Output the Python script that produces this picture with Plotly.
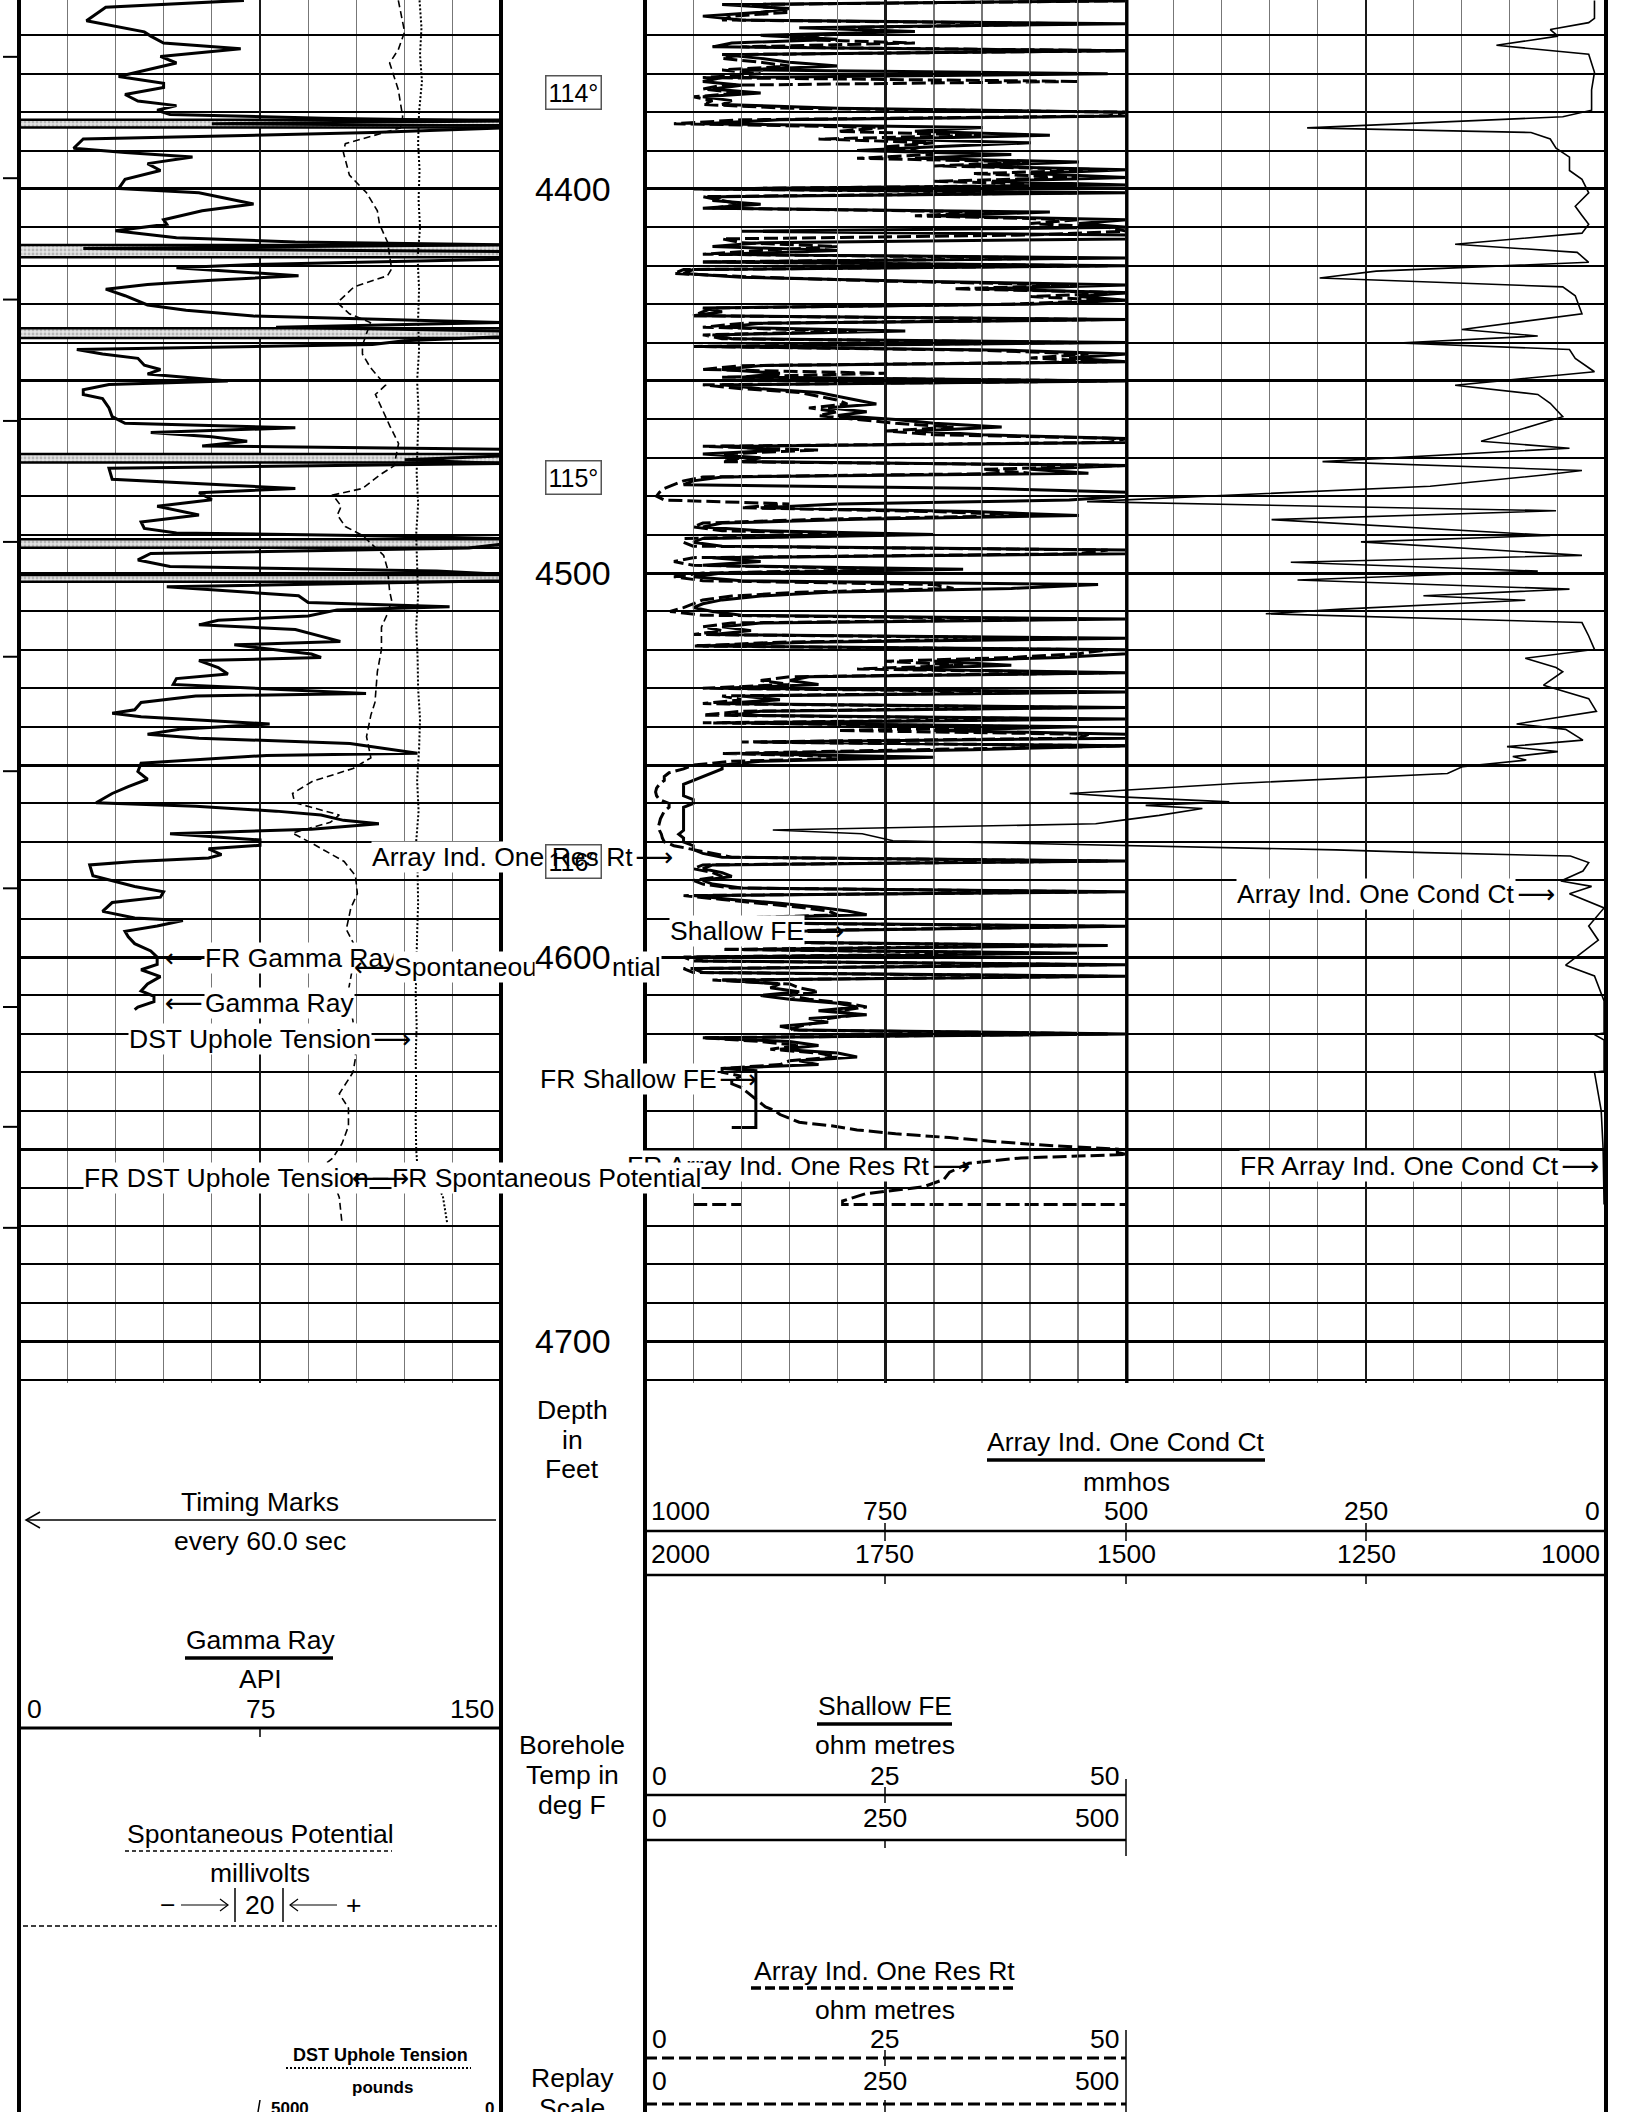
import plotly.graph_objects as go

GR_DEPTH = [4350.9, 4352.7, 4356.2, 4356.7, 4359.1, 4360.2, 4362.0, 4363.5, 4365.5, 4367.2,
            4370.7, 4372.5, 4373.6, 4375.4, 4377.1, 4378.3, 4379.5, 4380.6, 4381.6, 4382.3,
            4383.0, 4383.5, 4384.1, 4385.3, 4387.0, 4389.4, 4390.5, 4391.7, 4393.4, 4395.2,
            4397.5, 4399.9, 4401.0, 4403.9, 4405.7, 4408.0, 4409.2, 4410.9, 4412.7, 4413.8,
            4414.5, 4415.5, 4416.3, 4417.5, 4418.3, 4419.7, 4420.5, 4422.6, 4423.8, 4424.9,
            4426.1, 4427.8, 4430.2, 4431.6, 4433.1, 4434.8, 4436.0, 4437.0, 4438.5, 4439.5,
            4440.5, 4441.8, 4443.0, 4444.1, 4445.9, 4447.0, 4448.2, 4450.0, 4450.9, 4452.3,
            4453.5, 4454.6, 4457.0, 4459.3, 4461.0, 4462.2, 4463.4, 4464.5, 4465.7, 4466.9,
            4467.8, 4469.5, 4470.5, 4471.5, 4472.7, 4475.6, 4476.8, 4478.0, 4479.1, 4480.9,
            4482.6, 4484.9, 4486.7, 4488.4, 4489.6, 4490.2, 4491.0, 4492.5, 4493.5, 4494.9,
            4496.6, 4498.3, 4499.5, 4500.3, 4502.0, 4503.6, 4505.9, 4507.7, 4508.8, 4509.6,
            4511.2, 4512.3, 4513.5, 4514.7, 4517.8, 4518.7, 4521.1, 4522.0, 4522.8, 4524.6,
            4526.3, 4527.5, 4529.0, 4531.4, 4532.0, 4533.7, 4535.6, 4536.5, 4537.4, 4539.3,
            4540.7, 4542.0, 4543.0, 4544.4, 4546.9, 4547.5, 4549.5, 4551.7, 4553.7, 4555.6,
            4557.4, 4559.8, 4560.7, 4562.0, 4563.0, 4564.4, 4565.3, 4566.7, 4567.9, 4568.6,
            4569.5, 4570.9, 4571.8, 4573.3, 4574.2, 4575.1, 4576.0, 4578.8, 4581.6, 4583.0,
            4584.4, 4585.8, 4588.1, 4589.8, 4590.5, 4591.9, 4593.3, 4594.7, 4596.5, 4598.4,
            4600.0, 4601.9, 4603.3, 4605.1, 4607.0, 4608.8, 4610.2, 4611.6, 4613.0, 4613.7]
GR_API = [70, 27, 21, 24, 39, 41, 45, 69, 44, 49,
          31, 45, 45, 33, 37, 49, 43, 47, 95, 150,
          60, 150, 150, 110, 20, 17, 33, 54, 40, 44,
          33, 31, 56, 73, 57, 45, 46, 30, 49, 86,
          150, 20, 150, 150, 150, 73, 49, 87, 60, 40,
          27, 33, 40, 52, 73, 150, 80, 150, 150, 120,
          110, 18, 26, 37, 39, 44, 40, 65, 28, 20,
          20, 26, 28, 29, 33, 86, 41, 60, 71, 57,
          150, 150, 120, 150, 28, 29, 60, 86, 56, 60,
          43, 56, 38, 39, 49, 105, 150, 150, 140, 41,
          37, 47, 130, 150, 150, 46, 87, 90, 134, 99,
          90, 62, 56, 86, 100, 67, 91, 94, 56, 62,
          65, 49, 48, 108, 55, 38, 36, 29, 38, 78,
          50, 40, 56, 103, 124, 77, 38, 37, 40, 34,
          29, 24, 55, 80, 94, 101, 112, 91, 47, 58,
          75, 75, 59, 63, 59, 36, 22, 23, 36, 45,
          44, 29, 26, 36, 51, 43, 33, 34, 36, 41,
          43, 43, 38, 44, 40, 38, 42, 42, 37, 36]
GR_SCALE = [0, 150]

SP_DEPTH = [4350.9, 4359.1, 4363.7, 4367.2, 4374.2, 4381.2, 4384.1, 4388.2, 4390.5, 4396.4,
            4401.0, 4405.7, 4409.2, 4413.8, 4420.8, 4422.6, 4425.5, 4429.6, 4432.5, 4434.8,
            4440.7, 4443.0, 4446.5, 4451.1, 4453.5, 4457.0, 4461.6, 4466.3, 4472.1, 4474.5,
            4478.0, 4479.7, 4482.6, 4484.9, 4487.9, 4490.2, 4495.4, 4498.9, 4504.8, 4507.1,
            4510.6, 4514.1, 4519.9, 4525.7, 4533.7, 4537.0, 4542.6, 4548.1, 4550.9, 4554.2,
            4557.4, 4559.8, 4563.0, 4564.9, 4567.7, 4570.5, 4575.1, 4578.8, 4583.5, 4587.2,
            4592.8, 4597.4, 4602.1, 4608.6, 4613.3, 4620.7, 4626.3, 4630.0, 4635.6, 4639.3,
            4644.0, 4648.6, 4652.3, 4654.7, 4657.9, 4662.6, 4669.1]
SP_MV = [7.4, 10, 7.4, 3.8, 7.4, 9.2, 8.3, -14.6, -15.4, -12.9,
         -5.8, -1.3, -0.4, 2.9, 4.6, 2.9, -11, -17.9, -12.9, -4.2,
         -7.5, -7.5, -4.2, 2.1, -2.1, 0.4, 3.8, 7.5, 5.6, -0.4,
         -7.5, -19.8, -16.3, -17.9, -14.6, -7.5, 1.3, 2.9, 3.8, 4.6,
         2.9, 0.4, 0.4, -1.3, -2.3, -4, -5.8, -4, -11.4, -28.1,
         -36.5, -35.6, -17.1, -20.8, -36.5, -28.1, -15.1, -10.4, -9.6, -12.3,
         -14.2, -10.4, -11.4, -13.3, -12.3, -10.4, -10.4, -11.4, -17.1, -13.3,
         -13.3, -16, -19.8, -24.4, -19.8, -17.1, -16]
SP_SCALE = [-150, 50]

DST_DEPTH = [4350.9, 4358, 4365, 4372, 4380, 4388, 4395, 4403, 4410, 4418,
             4426, 4434, 4442, 4450, 4458, 4466, 4474, 4482, 4490, 4498,
             4506, 4514, 4522, 4530, 4538, 4546, 4554, 4562, 4570, 4578,
             4586, 4594, 4602, 4610, 4618, 4626, 4634, 4642, 4650, 4655.5,
             4659, 4662, 4669]
DST_LB = [-1690, -1650, -1680, -1640, -1700, -1720, -1690, -1710, -1680, -1730,
          -1700, -1720, -1700, -1740, -1710, -1730, -1750, -1720, -1760, -1740,
          -1720, -1760, -1730, -1720, -1680, -1700, -1740, -1710, -1760, -1730,
          -1720, -1740, -1760, -1770, -1750, -1770, -1760, -1770, -1760, -1730,
          -1400, -1210, -1120]
DST_SCALE = [-10000, 0]

SFE_START = 4351
SFE_OHMM = [50, 8, 15, 12, 6, 10, 50, 16, 28, 12,
            20, 9, 7, 50, 8, 12, 15, 20, 10, 48,
            8, 6, 10, 7, 12, 6, 9, 8, 20, 50,
            50, 14, 6, 35, 28, 42, 25, 40, 30, 22,
            38, 28, 45, 33, 50, 40, 50, 36, 50, 5,
            50, 8, 7, 12, 6, 42, 30, 50, 45, 50,
            10, 50, 50, 12, 7, 20, 8, 50, 6, 50,
            5, 4, 10, 28, 50, 35, 50, 45, 50, 40,
            6, 8, 5, 50, 12, 8, 27, 7, 9, 50,
            6, 38, 50, 44, 50, 12, 8, 14, 10, 50,
            8, 12, 18, 20, 22, 24, 19, 23, 20, 26,
            30, 37, 28, 35, 50, 50, 8, 14, 6, 12,
            10, 50, 40, 46, 8, 5, 4, 36, 50, 50,
            44, 20, 12, 34, 45, 22, 8, 6, 12, 30,
            6, 5, 8, 50, 50, 7, 12, 6, 33, 8,
            5, 10, 47, 38, 19, 12, 8, 6, 5, 7,
            10, 50, 12, 8, 11, 7, 50, 17, 6, 50,
            50, 43, 30, 38, 26, 50, 17, 15, 18, 8,
            50, 10, 14, 8, 50, 12, 9, 50, 8, 45,
            30, 50, 50, 12, 50, 34, 10, 30, 12, 8,
            8, 7, 6, 5, 4, 4, 4, 4, 5, 5,
            4, 4, 4, 4, 4, 4, 4, 3.5, 4, 4,
            5, 5, 6, 8, 50, 7, 6, 8, 9, 6,
            7, 10, 50, 5, 9, 14, 18, 21, 23, 8,
            6, 50, 20, 6, 12, 8, 48, 10, 45, 5,
            6, 50, 5, 6, 50, 8, 14, 13, 16, 12,
            15, 20, 22, 18, 23, 17, 19, 14, 16, 50,
            6, 15, 18, 14, 20, 22, 16, 18, 8]
SFE_TAIL_DEPTH = [4629.6, 4644.4, 4644.4]
SFE_TAIL_OHMM = [11.5, 11.5, 9]

RT_START = 4351
RT_OHMM = [50, 10, 14, 15, 9, 8, 45, 20, 25, 18,
           15, 28, 10, 50, 10, 8, 12, 15, 8, 12,
           6, 45, 8, 6, 10, 5, 7, 6, 15, 50,
           48, 10, 3, 25, 20, 35, 18, 30, 25, 28,
           30, 22, 40, 30, 48, 34, 45, 30, 45, 6,
           45, 6, 8, 10, 7, 36, 28, 45, 40, 48,
           50, 40, 8, 10, 20, 12, 6, 45, 6, 48,
           4, 3, 12, 25, 45, 32, 50, 40, 48, 38,
           7, 6, 5, 48, 10, 6, 22, 6, 8, 45,
           5, 35, 46, 40, 48, 10, 6, 25, 8, 48,
           6, 10, 16, 18, 20, 21, 17, 20, 18, 22,
           26, 32, 25, 30, 50, 48, 6, 18, 8, 10,
           8, 50, 35, 40, 6, 4, 3, 2, 1.5, 1.2,
           2, 15, 10, 30, 40, 18, 6, 5, 8, 26,
           4, 4, 5, 48, 45, 5, 3, 5, 28, 6,
           3, 6, 30, 32, 16, 9, 6, 5, 4, 2.6,
           6, 45, 9, 6, 8, 5, 45, 14, 5, 48,
           45, 38, 25, 33, 22, 48, 15, 12, 15, 6,
           45, 8, 10, 6, 45, 10, 6, 45, 6, 40,
           20, 46, 45, 10, 50, 28, 8, 25, 9, 5,
           4, 2.5, 2, 2, 1.5, 1.2, 1.1, 1.2, 1.5, 2.5,
           2.5, 2, 1.8, 1.6, 1.5, 1.4, 1.5, 1.7, 1.8, 2,
           3, 5, 7, 9, 48, 6, 5, 7, 8, 5,
           6, 9, 48, 4, 8, 12, 16, 19, 20, 7,
           5, 48, 18, 5, 10, 7, 45, 8, 42, 4,
           5, 48, 4, 5, 48, 7, 15, 16, 18, 15,
           17, 21, 23, 20, 22, 19, 18, 16, 15, 48,
           6, 12, 16, 13, 18, 20, 15, 14, 8, 8,
           10, 9, 9, 10, 10.5, 11, 11.5, 12, 12.5, 13.5,
           14, 15, 16, 19.5, 22, 26, 31.6, 36, 41.6, 49]
RT_TAIL_DEPTH = [4650.9, 4651.4, 4652.3, 4653.7, 4656.0, 4657.9, 4659.8, 4661.6, 4663.5, 4664.4, 4664.4]
RT_TAIL_OHMM = [49, 50, 39, 33.6, 31.6, 31, 28.9, 22.9, 20.5, 20.5, 50]
RT_STUB_DEPTH = [4664.4, 4664.4]
RT_STUB_OHMM = [5, 10]
RES_SCALE = [0, 50]

# conductivity: 1000 -> 0 mmhos across tracks 2 and 3
COND_DEPTH = [4350.9, 4352.1, 4355.6, 4356.7, 4358.5, 4360.2, 4362.6, 4364.9, 4367.2, 4369.6,
              4374.2, 4379.5, 4381.2, 4384.1, 4385.3, 4387.0, 4389.4, 4391.7, 4395.2, 4397.5,
              4401.0, 4404.5, 4406.9, 4409.2, 4411.5, 4414.4, 4416.5, 4419.1, 4421.4, 4423.2,
              4425.5, 4427.8, 4432.5, 4436.6, 4438.3, 4440.1, 4441.8, 4444.1, 4447.6, 4451.1,
              4453.5, 4455.8, 4459.3, 4465.7, 4467.5, 4469.2, 4471.0, 4473.3, 4474.5, 4477.4,
              4481.4, 4483.8, 4486.1, 4490.2, 4491.9, 4495.4, 4497.2, 4499.5, 4501.8, 4504.2,
              4505.9, 4507.1, 4509.4, 4510.6, 4512.9, 4516.4, 4519.9, 4522.2, 4524.6, 4525.7,
              4529.2, 4532.7, 4536.0, 4539.3, 4540.7, 4543.5, 4545.2, 4546.5, 4547.8, 4548.7,
              4550.4, 4552.2, 4554.8, 4557.4, 4558.3, 4559.6, 4560.5, 4561.3, 4563.1, 4564.4,
              4565.3, 4566.9, 4567.9, 4569.7, 4572.1, 4572.8, 4573.7, 4575.4, 4577.6, 4580.2,
              4581.6, 4583.5, 4587.2, 4591.9, 4595.6, 4602.1, 4604.9, 4611.4, 4619.8, 4620.2,
              4621.6, 4629.7, 4630.0, 4640.0, 4650.0, 4664.4]
COND_MMHO = [12, 12, 12, 18, 58, 50, 114, 18, 15, 12,
             15, 15, 45, 311, 78, 58, 52, 38, 38, 25,
             18, 32, 25, 18, 25, 157, 30, 18, 239, 298,
             45, 32, 25, 150, 71, 216, 38, 32, 12, 157,
             71, 58, 45, 130, 38, 163, 295, 25, 65, 183,
             540, 52, 348, 58, 255, 25, 328, 71, 321, 38,
             190, 84, 275, 354, 25, 18, 12, 84, 52, 45,
             65, 18, 10, 93, 42, 24, 103, 50, 97, 83,
             149, 165, 386, 558, 505, 392, 479, 420, 465, 505,
             531, 867, 774, 742, 281, 188, 37, 18, 24, 47,
             15, 38, 2, 18, 8, 42, 12, 2, 2, 12,
             2, 2, 12, 5, 3, 2]
COND_SCALE = [1000, 0]

BAND_TOP = [4382.0, 4414.6, 4436.3, 4469.0, 4491.2, 4500.5]
BAND_BOT = [4384.0, 4417.8, 4438.8, 4471.2, 4493.4, 4502.3]

TIMING_DEPTHS = [4365.6, 4397.2, 4428.8, 4460.4, 4491.9, 4521.8, 4551.6, 4582.1, 4613.0, 4644.2, 4670.5]
DEPTH_LABELS = [4400, 4500, 4600, 4700]
TEMP_DEPTHS = [4375, 4475, 4575]
TEMP_DEGF = [114, 115, 116]

DEPTH_RANGE = [4710.9, 4350.8]

# ---------------- layout helpers ----------------
W, H = 1632, 2112
LOG_BOTTOM = 1383
FONT = "Liberation Sans, Arial, DejaVu Sans, sans-serif"
HFS = 26.5   # header / label font size


def X(px):
    return px / W


def Y(py):
    return 1 - py / H


shapes = []
annotations = []


def line(x0, y0, x1, y1, width=2, dash="solid", color="black"):
    shapes.append(dict(type="line", xref="paper", yref="paper", x0=X(x0), y0=Y(y0), x1=X(x1), y1=Y(y1),
                       line=dict(color=color, width=width, dash=dash), layer="above"))


def path(pts, width=1.5):
    d = "M " + " L ".join(f"{X(a):.5f},{Y(b):.5f}" for a, b in pts)
    shapes.append(dict(type="path", xref="paper", yref="paper", path=d,
                       line=dict(color="black", width=width), layer="above"))


def txt(s, x, y, size=HFS, anchor="center", bold=False, bg=None):
    annotations.append(dict(text=f"<b>{s}</b>" if bold else s, x=X(x), y=Y(y), xref="paper", yref="paper",
                            showarrow=False, xanchor=anchor, yanchor="middle",
                            font=dict(family=FONT, size=size, color="black"),
                            bgcolor=bg, borderpad=0))


# ---------------- traces ----------------
fig = go.Figure()

bx, by = [], []
for t, b in zip(BAND_TOP, BAND_BOT):
    bx += [GR_SCALE[0], GR_SCALE[1], GR_SCALE[1], GR_SCALE[0], GR_SCALE[0], None]
    by += [t, t, b, b, t, None]
fig.add_trace(go.Scatter(x=bx, y=by, xaxis="x", yaxis="y", mode="lines", fill="toself",
                         fillcolor="#d0d0d0",
                         fillpattern=dict(shape=".", fgcolor="#8a8a8a", bgcolor="#e4e4e4", size=4, solidity=0.4),
                         line=dict(color="black", width=2.5), hoverinfo="skip", showlegend=False))

fig.add_trace(go.Scatter(x=GR_API, y=GR_DEPTH, xaxis="x", yaxis="y", mode="lines",
                         line=dict(color="black", width=3), name="Gamma Ray", showlegend=False))
fig.add_trace(go.Scatter(x=SP_MV, y=SP_DEPTH, xaxis="x2", yaxis="y", mode="lines",
                         line=dict(color="black", width=1.6, dash="7px,4px"), name="Spontaneous Potential",
                         showlegend=False))
fig.add_trace(go.Scatter(x=DST_LB, y=DST_DEPTH, xaxis="x3", yaxis="y", mode="lines",
                         line=dict(color="black", width=2, dash="2px,2px"), name="DST Uphole Tension",
                         showlegend=False))

rt_depth = [RT_START + i for i in range(len(RT_OHMM))] + RT_TAIL_DEPTH + [None] + RT_STUB_DEPTH
rt_vals = list(RT_OHMM) + RT_TAIL_OHMM + [None] + RT_STUB_OHMM
fig.add_trace(go.Scatter(x=rt_vals, y=rt_depth, xaxis="x4", yaxis="y", mode="lines", connectgaps=False,
                         line=dict(color="black", width=3, dash="14px,5px"), name="Array Ind. One Res Rt",
                         showlegend=False))
sfe_depth = [SFE_START + i for i in range(len(SFE_OHMM))] + SFE_TAIL_DEPTH
sfe_vals = list(SFE_OHMM) + SFE_TAIL_OHMM
fig.add_trace(go.Scatter(x=sfe_vals, y=sfe_depth, xaxis="x4", yaxis="y", mode="lines",
                         line=dict(color="black", width=3), name="Shallow FE", showlegend=False))
fig.add_trace(go.Scatter(x=COND_MMHO, y=COND_DEPTH, xaxis="x5", yaxis="y", mode="lines",
                         line=dict(color="black", width=1.6), name="Array Ind. One Cond Ct", showlegend=False))


def track_axis(x0, x1, rng, major, minor):
    return dict(domain=[X(x0), X(x1)], range=rng, anchor="y", showticklabels=False, ticks="",
                showline=False, zeroline=False, showgrid=True, tick0=0, dtick=major,
                gridcolor="#1a1a1a", gridwidth=1.6,
                minor=dict(tick0=0, dtick=minor, showgrid=True, gridcolor="#777777", gridwidth=1.1),
                fixedrange=True)


layout = dict(
    width=W, height=H, margin=dict(l=0, r=0, t=0, b=0),
    paper_bgcolor="white", plot_bgcolor="rgba(0,0,0,0)", showlegend=False,
    xaxis=track_axis(19, 501, GR_SCALE, 75, 15),
    xaxis2=dict(overlaying="x", anchor="y", range=SP_SCALE, visible=False),
    xaxis3=dict(overlaying="x", anchor="y", range=DST_SCALE, visible=False),
    xaxis4=track_axis(645, 1127, RES_SCALE, 25, 5),
    # conductivity spans tracks 2 + 3; its grid (every 50 mmhos, dark every 250) draws track 3's grid
    xaxis5=track_axis(645, 1606, COND_SCALE, 250, 50),
    yaxis=dict(domain=[Y(LOG_BOTTOM), 1], range=DEPTH_RANGE, tick0=4400, dtick=50, showgrid=True,
               gridcolor="black", gridwidth=3,
               minor=dict(tick0=4400, dtick=10, showgrid=True, gridcolor="black", gridwidth=1.7),
               showticklabels=False, ticks="", zeroline=False, showline=False, fixedrange=True),
)

# track borders
for bxp, top, bot, w in [(19, 0, H, 4), (501, 0, H, 4), (645, 0, H, 4), (1127, 0, LOG_BOTTOM, 3), (1606, 0, H, 4)]:
    line(bxp, top, bxp, bot, width=w)

# timing marks
for d in TIMING_DEPTHS:
    shapes.append(dict(type="line", xref="paper", yref="y", x0=X(3), x1=X(19), y0=d, y1=d,
                       line=dict(color="black", width=2)))

# ---------------- curve labels (in log area) ----------------
ARROW_W = 38
CURVE_LABELS = [  # text, arrow tip x, y, arrow direction
    ("FR Gamma Ray", 166, 958, "L"),
    ("Spontaneous Potential", 355, 967, "L"),
    ("Gamma Ray", 166, 1003, "L"),
    ("DST Uphole Tension", 410, 1039, "R"),
    ("Array Ind. One Res Rt", 672, 857, "R"),
    ("Shallow FE", 843, 931, "R"),
    ("FR Shallow FE", 756, 1079, "R"),
    ("Array Ind. One Cond Ct", 1554, 894, "R"),
    ("FR Array Ind. One Res Rt", 969, 1166, "R"),
    ("FR Array Ind. One Cond Ct", 1598, 1166, "R"),
    ("FR DST Uphole Tension", 408, 1178, "R"),
    ("FR Spontaneous Potential", 353, 1178, "L"),
]
for s, tip, y, dr in CURVE_LABELS:
    if dr == "L":
        txt(s, tip + ARROW_W, y, anchor="left", bg="white")
    else:
        txt(s, tip - ARROW_W, y, anchor="right", bg="white")
for s, tip, y, dr in CURVE_LABELS:
    if dr == "L":
        txt("\u27f5", tip - 2, y, anchor="left")
    else:
        txt("\u27f6", tip + 2, y, anchor="right")

# depth numbers and temperature boxes
for d in DEPTH_LABELS:
    annotations.append(dict(text=str(d), x=X(573), y=d, xref="paper", yref="y", showarrow=False,
                            xanchor="center", yanchor="middle", bgcolor="white", borderpad=0,
                            font=dict(family=FONT, size=34, color="black")))
for d, t in zip(TEMP_DEPTHS, TEMP_DEGF):
    annotations.append(dict(text=f"{t}\u00b0", x=X(573), y=d, xref="paper", yref="y", showarrow=False,
                            xanchor="center", yanchor="middle", bordercolor="#555555", borderwidth=1.5,
                            borderpad=2, font=dict(family=FONT, size=25, color="black")))

# ---------------- header / scales ----------------
for s, y in [("Depth", 1410), ("in", 1440), ("Feet", 1469), ("Borehole", 1745), ("Temp in", 1775),
             ("deg F", 1805), ("Replay", 2078), ("Scale", 2108)]:
    txt(s, 572, y)

# timing marks
txt("Timing Marks", 260, 1502)
line(26, 1520, 496, 1520, width=1.5)
path([(40, 1512), (26, 1520), (40, 1528)], width=1.5)
txt("every 60.0 sec", 260, 1541)

# gamma ray
txt("Gamma Ray", 260, 1640)
line(185, 1658, 333, 1658, width=3.5)
txt("API", 260, 1679)
txt("0", 26, 1709, anchor="left")
txt("75", 260, 1709)
txt("150", 495, 1709, anchor="right")
line(19, 1728, 501, 1728, width=3)
line(260, 1728, 260, 1737, width=1.5)

# spontaneous potential
txt("Spontaneous Potential", 260, 1834)
line(125, 1851, 392, 1851, width=1.5, dash="4px,3px")
txt("millivolts", 260, 1873)
txt("\u2212", 167, 1905)
line(181, 1905, 228, 1905, width=1.2)
path([(220, 1899), (228, 1905), (220, 1911)], width=1.2)
line(235, 1888, 235, 1922, width=1.5)
txt("20", 259, 1905)
line(283, 1888, 283, 1922, width=1.5)
line(290, 1905, 337, 1905, width=1.2)
path([(298, 1899), (290, 1905), (298, 1911)], width=1.2)
txt("+", 353, 1905)
line(23, 1926, 497, 1926, width=1.5, dash="5px,3px")

# DST uphole tension
txt("DST Uphole Tension", 380, 2055, size=18, bold=True)
line(286, 2068, 471, 2068, width=1.8, dash="2px,2px")
txt("pounds", 382, 2087, size=17, bold=True)
line(260, 2100, 258, 2112, width=1.5)
txt("5000", 290, 2108, size=17, bold=True)
txt("0", 489, 2108, size=17, bold=True)

# conductivity
txt("Array Ind. One Cond Ct", 1126, 1442)
line(987, 1460, 1265, 1460, width=3.5)
txt("mmhos", 1126, 1482)
for s, x, a in [("1000", 650, "left"), ("750", 885, "center"), ("500", 1126, "center"),
                ("250", 1366, "center"), ("0", 1601, "right")]:
    txt(s, x, 1511, anchor=a)
line(645, 1531, 1606, 1531, width=2.5)
for x in (885, 1126, 1366):
    line(x, 1523, x, 1541, width=1.5)
for s, x, a in [("2000", 650, "left"), ("1750", 885, "center"), ("1500", 1126, "center"),
                ("1250", 1366, "center"), ("1000", 1601, "right")]:
    txt(s, x, 1554, anchor=a)
line(645, 1575, 1606, 1575, width=2.5)
for x in (885, 1126, 1366):
    line(x, 1575, x, 1584, width=1.5)

# shallow FE
txt("Shallow FE", 885, 1706)
line(817, 1724, 952, 1724, width=3.5)
txt("ohm metres", 885, 1745)
for s, x, a in [("0", 651, "left"), ("25", 885, "center"), ("50", 1120, "right")]:
    txt(s, x, 1776, anchor=a)
line(645, 1795, 1126, 1795, width=2.5)
line(885, 1787, 885, 1803, width=1.5)
line(1126, 1779, 1126, 1856, width=1.5)
for s, x, a in [("0", 651, "left"), ("250", 885, "center"), ("500", 1120, "right")]:
    txt(s, x, 1818, anchor=a)
line(645, 1840, 1126, 1840, width=2.5)
line(885, 1840, 885, 1848, width=1.5)

# array induction resistivity
txt("Array Ind. One Res Rt", 885, 1971)
line(751, 1988, 1017, 1988, width=3.5, dash="10px,4px")
txt("ohm metres", 885, 2010)
for s, x, a in [("0", 651, "left"), ("25", 885, "center"), ("50", 1120, "right")]:
    txt(s, x, 2039, anchor=a)
line(645, 2058, 1126, 2058, width=3, dash="12px,5px")
line(885, 2050, 885, 2066, width=1.5)
line(1126, 2030, 1126, 2112, width=1.5)
for s, x, a in [("0", 651, "left"), ("250", 885, "center"), ("500", 1120, "right")]:
    txt(s, x, 2081, anchor=a)
line(645, 2104, 1126, 2104, width=3, dash="12px,5px")
line(885, 2100, 885, 2112, width=1.5)

layout["shapes"] = shapes
layout["annotations"] = annotations
fig.update_layout(**layout)
fig.write_html("out.html", config={"displayModeBar": False},
               post_script="document.body.style.margin='0px';document.body.style.overflow='hidden';")
